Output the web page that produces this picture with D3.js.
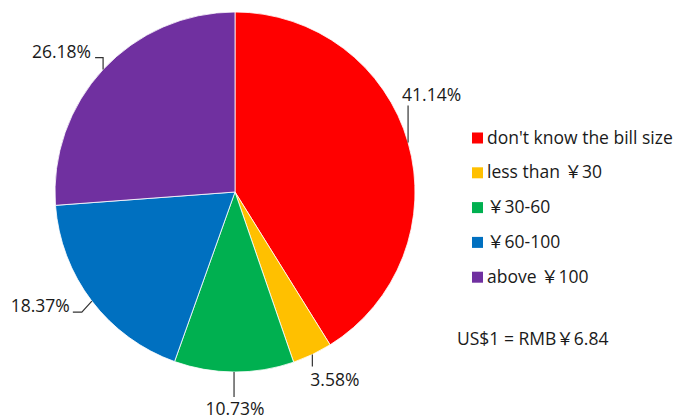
<!DOCTYPE html>
<html>
<head>
<meta charset="utf-8">
<script src="https://cdnjs.cloudflare.com/ajax/libs/d3/7.8.5/d3.min.js"></script>
<style>
  body { margin: 0; background: #fff; }
  text { font-family: "Open Sans", "Noto Sans CJK SC", sans-serif; fill: #1a1a1a; }
</style>
</head>
<body>
<script>
//Data
var categories = ["don't know the bill size", "less than \uFFE530", "\uFFE530-60", "\uFFE560-100", "above \uFFE5100"];
var values = [41.14, 3.58, 10.73, 18.37, 26.18];
var colors = ["#FF0000", "#FFC000", "#00B050", "#0070C0", "#7030A0"];
var note = "US$1 = RMB\uFFE56.84";

//Width and height
var w = 674;
var h = 419;
var cx = 235, cy = 192, r = 180;
var fontSize = 17.5;

//label leader ends (offset from the slice edge point), and text anchor points
var labelLayout = [
  {line: [[0, 0], [0, -37]], text: [-6, -42], anchor: "start"},
  {line: [[0, 0], [0, 12]], text: [-2, 31], anchor: "start"},
  {line: [[0, 0], [0, 25]], text: [1, 43], anchor: "middle"},
  {line: [[0, 0], [-10, 11], [-19, 11]], text: [-22, 11], anchor: "end"},
  {line: [[0, 0], [0, -12], [-8, -12]], text: [-12, -12], anchor: "end"}
];

var dataset = values.map(function(v, i) {
  return {name: categories[i], value: v, color: colors[i]};
});

var svg = d3.select("body")
  .append("svg")
  .attr("width", w)
  .attr("height", h);

var pie = d3.pie()
  .sort(null)
  .value(function(d) { return d.value; });

var arc = d3.arc()
  .innerRadius(0)
  .outerRadius(r);

var arcs = pie(dataset);

var g = svg.append("g")
  .attr("transform", "translate(" + cx + "," + cy + ")");

g.selectAll("path")
  .data(arcs)
  .enter()
  .append("path")
  .attr("d", arc)
  .attr("fill", function(d) { return d.data.color; })
  .attr("stroke", "#fff")
  .attr("stroke-width", 0.8);

//point on the rim at mid angle
function edge(d) {
  var a = (d.startAngle + d.endAngle) / 2;
  return [r * Math.sin(a), -r * Math.cos(a)];
}

var line = d3.line();

g.selectAll(".leader")
  .data(arcs)
  .enter()
  .append("path")
  .attr("class", "leader")
  .attr("fill", "none")
  .attr("stroke", "#333")
  .attr("stroke-width", 1.2)
  .attr("d", function(d, i) {
    var p = edge(d);
    return line(labelLayout[i].line.map(function(o) { return [p[0] + o[0], p[1] + o[1]]; }));
  });

g.selectAll(".pct")
  .data(arcs)
  .enter()
  .append("text")
  .attr("class", "pct")
  .attr("x", function(d, i) { return edge(d)[0] + labelLayout[i].text[0]; })
  .attr("y", function(d, i) { return edge(d)[1] + labelLayout[i].text[1]; })
  .attr("text-anchor", function(d, i) { return labelLayout[i].anchor; })
  .attr("font-size", fontSize)
  .text(function(d) { return d.data.value.toFixed(2) + "%"; });

//Legend
var legend = svg.append("g")
  .attr("transform", "translate(472,138)");

var rows = legend.selectAll("g")
  .data(dataset)
  .enter()
  .append("g")
  .attr("transform", function(d, i) { return "translate(0," + (i * 34.8) + ")"; });

rows.append("rect")
  .attr("x", 0)
  .attr("y", -5.5)
  .attr("width", 11)
  .attr("height", 11)
  .attr("fill", function(d) { return d.color; });

rows.append("text")
  .attr("x", 15)
  .attr("y", 5.5)
  .attr("font-size", fontSize)
  .text(function(d) { return d.name; });

svg.append("text")
  .attr("x", 457)
  .attr("y", 345)
  .attr("font-size", fontSize)
  .text(note);
</script>
</body>
</html>
